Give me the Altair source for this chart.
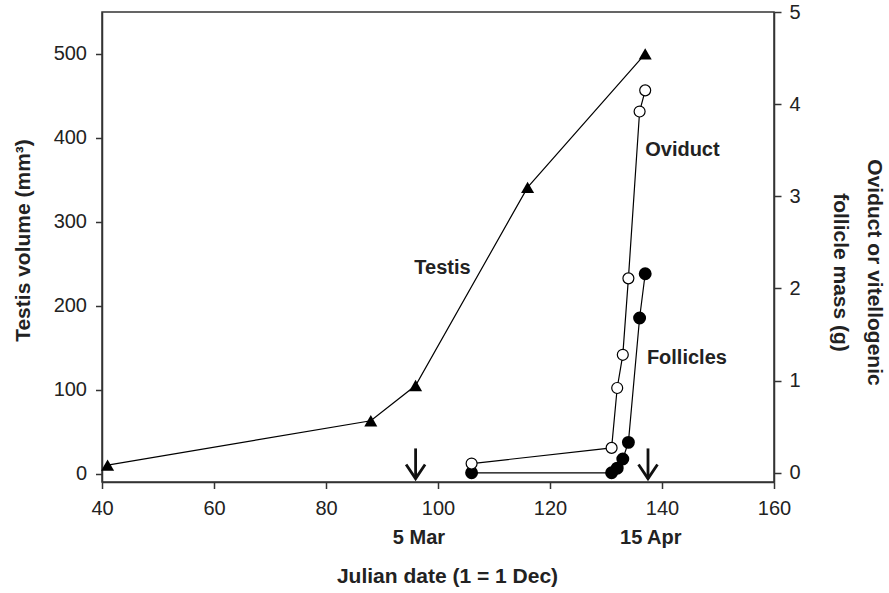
import altair as alt
import pandas as pd

# ---- data ----
testis_day = [41, 88, 96, 116, 137]
testis_vol = [10, 63, 105, 341, 500]

oviduct_day = [106, 131, 132, 133, 134, 136, 137]
oviduct_mass = [0.10, 0.27, 0.92, 1.28, 2.11, 3.92, 4.15]

follicle_day = [106, 131, 132, 133, 134, 136, 137]
follicle_mass = [0.0, 0.0, 0.05, 0.15, 0.33, 1.68, 2.16]

arrow_day = [96, 137.5]
arrow_top = [30, 30]
arrow_tip = [-6, -6]

date_label_text = ["5 Mar", "15 Apr"]
date_label_day = [96.6, 138.0]

series_label_text = ["Testis", "Oviduct", "Follicles"]

x_ticks = [40, 60, 80, 100, 120, 140, 160]
left_ticks = [0, 100, 200, 300, 400, 500]
right_ticks = [0, 1, 2, 3, 4, 5]

FONT = "Liberation Sans"
TXT = "#222222"
AX = "#333333"

testis_df = pd.DataFrame({"day": testis_day, "v": testis_vol})
ovi_df = pd.DataFrame({"day": oviduct_day, "m": oviduct_mass})
fol_df = pd.DataFrame({"day": follicle_day, "m": follicle_mass})
arrow_df = pd.DataFrame({"day": arrow_day, "v": arrow_top, "tip": arrow_tip})
arrow_tip_df = pd.DataFrame({"day": arrow_day, "v": arrow_tip})
date_df = pd.DataFrame({"day": date_label_day, "t": date_label_text})
testis_lab = pd.DataFrame({"day": [100.8], "v": [245], "t": [series_label_text[0]]})
right_lab = pd.DataFrame({"day": [137.0, 137.3], "m": [3.50, 1.25], "t": series_label_text[1:]})

xscale = alt.Scale(domain=[40, 160], nice=False, zero=False)
xaxis = alt.Axis(
    values=x_ticks, title="Julian date (1 = 1 Dec)", grid=False, labelFlush=False,
    tickSize=6.5, labelPadding=10, labelFontSize=20, labelFont=FONT, labelColor=TXT,
    titleFont=FONT, titleFontSize=21, titleFontWeight="bold", titleColor=TXT,
    titleX=345, titleY=94, titleAlign="center", titleBaseline="middle",
    domainColor=AX, tickColor=AX, domainWidth=1.5, tickWidth=1.5,
)
X = alt.X("day:Q", scale=xscale, axis=xaxis)

lscale = alt.Scale(domain=[-10, 550], nice=False, zero=False)
laxis = alt.Axis(
    values=left_ticks, title="Testis volume (mm³)", grid=False, orient="left",
    labelFlush=False,
    tickSize=6.5, labelPadding=9, labelFontSize=20, labelFont=FONT, labelColor=TXT,
    titleFont=FONT, titleFontSize=21, titleFontWeight="bold", titleColor=TXT,
    titleAngle=-90, titleX=-73, titleY=228, titleAlign="center", titleBaseline="alphabetic",
    domainColor=AX, tickColor=AX, domainWidth=1.5, tickWidth=1.5,
)
rscale = alt.Scale(domain=[-0.1, 5], nice=False, zero=False)
raxis = alt.Axis(
    values=right_ticks, title=["Oviduct or vitellogenic", "follicle mass (g)"],
    grid=False, orient="right", labelFlush=False,
    tickSize=7, labelPadding=8, labelFontSize=20, labelFont=FONT, labelColor=TXT,
    titleFont=FONT, titleFontSize=21, titleFontWeight="bold", titleColor=TXT,
    titleAngle=90, titleX=93, titleY=260, titleAlign="center", titleBaseline="alphabetic",
    titleLineHeight=34,
    domainColor=AX, tickColor=AX, domainWidth=1.5, tickWidth=1.5,
)

YL = alt.Y("v:Q", scale=lscale, axis=laxis)

testis_line = alt.Chart(testis_df).mark_line(color="black", strokeWidth=1.2).encode(x=X, y=YL)
testis_pts = alt.Chart(testis_df).mark_point(
    shape="triangle-up", filled=True, color="black", size=170, opacity=1
).encode(x=X, y=YL)
testis_text = alt.Chart(testis_lab).mark_text(
    font=FONT, fontSize=20, fontWeight="bold", color=TXT, align="center", baseline="middle"
).encode(x=X, y=YL, text="t:N")

arrow_shaft = alt.Chart(arrow_df).mark_rule(color="#111111", strokeWidth=2.8).encode(
    x=X, y=YL, y2="tip:Q"
)
arrow_head = alt.Chart(arrow_tip_df).mark_point(
    shape="M -1 -1.5 L 0 0 L 1 -1.5", filled=False, color="#111111",
    strokeWidth=2.8, size=360, opacity=1, strokeJoin="miter"
).encode(x=X, y=YL)

date_text = alt.Chart(date_df).mark_text(
    font=FONT, fontSize=20, fontWeight="bold", color=TXT, align="center",
    baseline="middle", clip=False
).encode(x=X, y=alt.value(526), text="t:N")

left = alt.layer(testis_line, testis_pts, testis_text, arrow_shaft, arrow_head, date_text)

YR = alt.Y("m:Q", scale=rscale, axis=raxis)

fol_line = alt.Chart(fol_df).mark_line(color="black", strokeWidth=1.2).encode(x=X, y=YR)
ovi_line = alt.Chart(ovi_df).mark_line(color="black", strokeWidth=1.2).encode(x=X, y=YR)
fol_pts = alt.Chart(fol_df).mark_point(
    shape="circle", filled=True, fill="black", stroke="black", size=120, opacity=1
).encode(x=X, y=YR)
ovi_pts = alt.Chart(ovi_df).mark_point(
    shape="circle", filled=True, fill="white", stroke="black", strokeWidth=1.2,
    size=120, opacity=1
).encode(x=X, y=YR)
right_text = alt.Chart(right_lab).mark_text(
    font=FONT, fontSize=20, fontWeight="bold", color=TXT, align="left", baseline="middle"
).encode(x=X, y=YR, text="t:N")

right = alt.layer(fol_line, ovi_line, fol_pts, ovi_pts, right_text)

chart = alt.layer(left, right).resolve_scale(y="independent").properties(
    width=672, height=470,
    padding={"left": 102, "top": 12, "right": 115, "bottom": 111},
    autosize=alt.AutoSizeParams(type="none"),
    background="white",
).configure_view(stroke=AX, strokeWidth=1.5)

chart.save("out.html", embed_options={"renderer": "svg", "actions": False})
